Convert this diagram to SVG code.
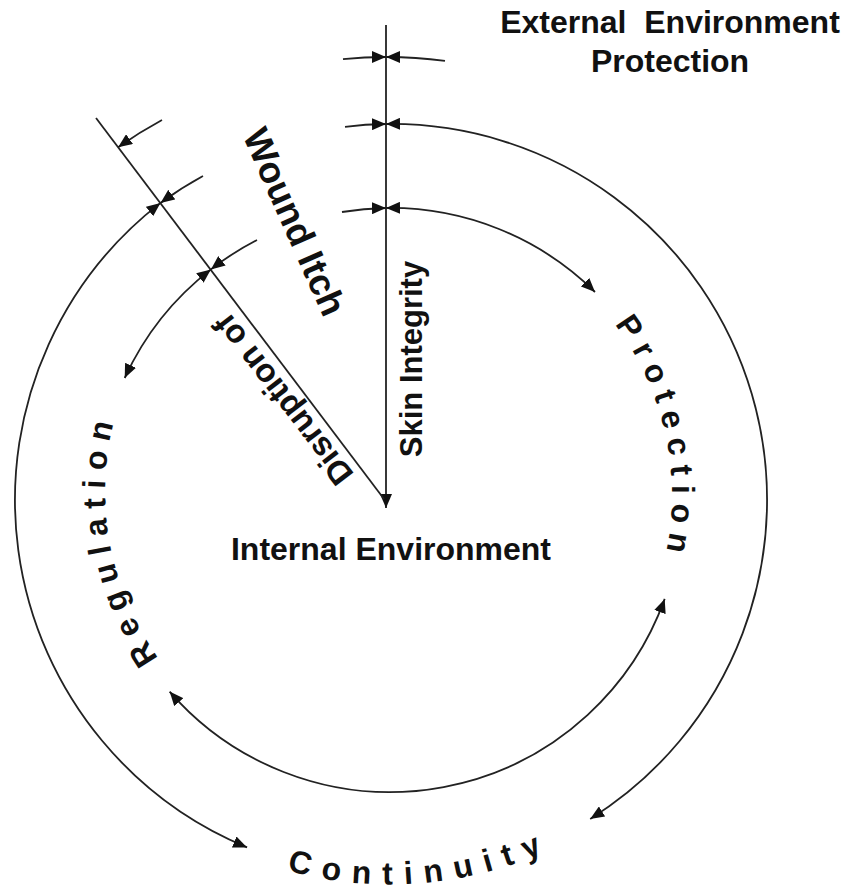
<svg xmlns="http://www.w3.org/2000/svg" width="847" height="894" viewBox="0 0 847 894">
<style>
.ln{fill:none;stroke:#222;stroke-width:1.8}
.ae{marker-end:url(#ah)}
.ab{marker-start:url(#ah);marker-end:url(#ah)}
.t{font-family:"Liberation Sans",Arial,Helvetica,sans-serif;font-weight:bold;fill:#111}
.c{font-family:"Liberation Sans",Arial,Helvetica,sans-serif;font-weight:bold;fill:#111;font-size:32px;letter-spacing:9px}
</style>
<defs>
<marker id="ah" viewBox="0 0 14 12" refX="14" refY="6" markerWidth="14" markerHeight="12" markerUnits="userSpaceOnUse" orient="auto-start-reverse">
<path d="M0,0 L14,6 L0,12 Z" fill="#111"/>
</marker>
<path id="pReg" d="M247.5,738.6 A285,285 0 0 1 171.7,308.8"/>
<path id="pPro" d="M522.4,246 A282,282 0 0 1 612.2,668.6"/>
<path id="pCon" d="M109.3,764.1 A387,387 0 0 0 701.1,727.2"/>
</defs>
<rect width="847" height="894" fill="#fff"/>
<g id="connectors">
<line class="ln ae" x1="386" y1="25" x2="386" y2="508"/>
<line class="ln" x1="96" y1="118" x2="384" y2="499"/>
<path class="ln ae" d="M343,59.1 A443,443 0 0 1 386,57"/>
<path class="ln ae" d="M445,60.9 A443,443 0 0 0 386,57"/>
<path class="ln ae" d="M162,120 A443,443 0 0 0 118.1,147.2"/>
<path class="ln ae" d="M345,126.8 A376,376 0 0 1 386,124"/>
<path class="ln ab" d="M386,124 A376,376 0 0 1 590.2,818.9"/>
<path class="ln ae" d="M203,176 A376,376 0 0 0 160.5,202.9"/>
<path class="ln ab" d="M160.5,202.9 A376,376 0 0 0 247.1,847.4"/>
<path class="ln ae" d="M342,212 A292,292 0 0 1 386,208"/>
<path class="ln ab" d="M386,208 A292,292 0 0 1 595,292"/>
<path class="ln ab" d="M664.7,598.9 A292,292 0 0 1 169.6,691.6"/>
<path class="ln ae" d="M257,240 A292,292 0 0 0 210.9,269.4"/>
<path class="ln ab" d="M210.9,269.4 A292,292 0 0 0 124.7,378"/>
</g>
<g id="external-env">
<text class="t" font-size="32" x="670" y="33" text-anchor="middle" xml:space="preserve">External  Environment</text>
<text class="t" font-size="32" x="670" y="72" text-anchor="middle">Protection</text>
</g>
<g id="internal-env">
<text class="t" font-size="32" x="391" y="560" text-anchor="middle">Internal Environment</text>
</g>
<g id="skin-integrity">
<text class="t" font-size="31" text-anchor="middle" transform="translate(422,359) rotate(-90)">Skin Integrity</text>
</g>
<g id="wound-itch">
<text class="t" font-size="37" text-anchor="middle" transform="translate(283,227) rotate(66)">Wound Itch</text>
</g>
<g id="disruption-of">
<text class="t" font-size="33" text-anchor="middle" transform="translate(292,393) rotate(-127.6)">Disruption of</text>
</g>
<g id="regulation">
<text class="c"><textPath href="#pReg" startOffset="50%" text-anchor="middle">Regulation</textPath></text>
</g>
<g id="protection">
<text class="c"><textPath href="#pPro" startOffset="50%" text-anchor="middle">Protection</textPath></text>
</g>
<g id="continuity">
<text class="c" style="letter-spacing:11.5px"><textPath href="#pCon" startOffset="346" text-anchor="middle">Continuity</textPath></text>
</g>
</svg>
